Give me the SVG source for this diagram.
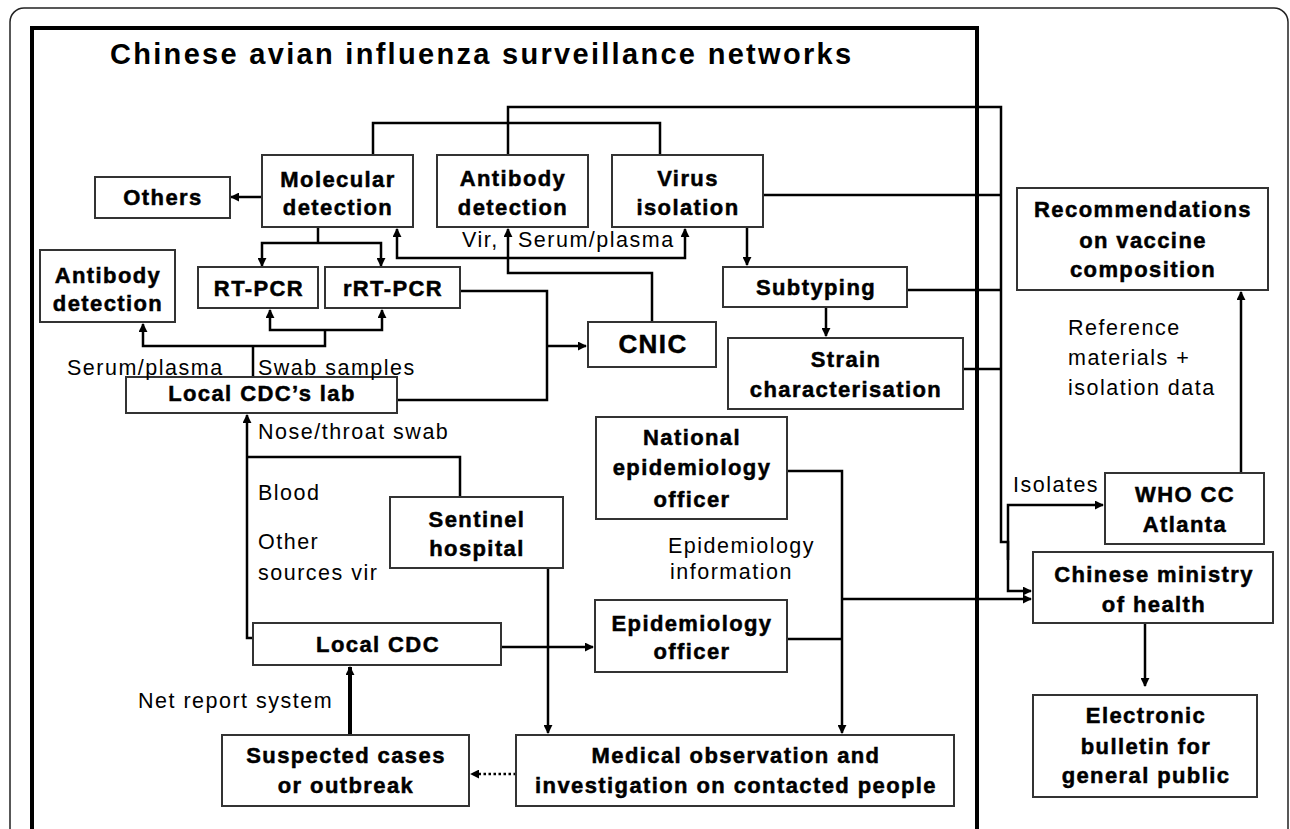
<svg xmlns="http://www.w3.org/2000/svg" width="1290" height="829" viewBox="0 0 1290 829">
<defs>
<style>
.box{fill:#fff;stroke:#333;stroke-width:2}
.t{font-family:"Liberation Sans",Arial,sans-serif;font-weight:bold;font-size:22px;letter-spacing:1.4px;text-anchor:middle;fill:#000;stroke:#000;stroke-width:0.5}
.l{font-family:"Liberation Sans",Arial,sans-serif;font-size:21.5px;letter-spacing:1.5px;fill:#000}
.c{fill:none;stroke:#000;stroke-width:2.5}
.a{marker-end:url(#ah)}
.s{marker-start:url(#ah)}
</style>
<marker id="ah" viewBox="0 0 10 10" refX="9" refY="5" markerUnits="userSpaceOnUse" markerWidth="9" markerHeight="9" orient="auto-start-reverse">
<path d="M0,0 L10,5 L0,10 z" fill="#000"/>
</marker>
</defs>
<rect width="1290" height="829" fill="#fff"/>
<rect x="10" y="8" width="1278" height="860" rx="14" fill="none" stroke="#222" stroke-width="1.5"/>
<path d="M32,829 V28 H977 V829" fill="none" stroke="#000" stroke-width="4"/>
<text x="110" y="64" style="font-family:'Liberation Sans',Arial,sans-serif;font-weight:bold;font-size:29px;letter-spacing:2.3px;fill:#000">Chinese avian influenza surveillance networks</text>

<g id="connectors">
<path class="c a" d="M262,197 H231"/>
<path class="c" d="M318,227 V243"/>
<path class="c s a" d="M262,266 V243 H381 V266"/>
<path class="c" d="M373,155 V123 H660 V155"/>
<path class="c a" d="M508,155 V107 H1001 V542 H1008 V591 H1031"/>
<path class="c a" d="M1008,560 V505 H1103"/>
<path class="c" d="M763,195 H1001"/>
<path class="c" d="M907,290 H1001"/>
<path class="c" d="M963,369 H1001"/>
<path class="c a" d="M652,322 V273 H508 V229"/>
<path class="c s a" d="M397,229 V258 H685 V229"/>
<path class="c a" d="M747,227 V265"/>
<path class="c a" d="M826,307 V336"/>
<path class="c" d="M397,400 H547 V291 H460"/>
<path class="c a" d="M547,346 H586"/>
<path class="c" d="M253,377 V346"/>
<path class="c s" d="M143,324 V346 H325 V330"/>
<path class="c s a" d="M270,310 V330 H382 V310"/>
<path class="c a" d="M253,638 H247 V415"/>
<path class="c" d="M460,497 V457 H247"/>
<path class="c a" d="M548,568 V733"/>
<path class="c a" d="M501,647 H593"/>
<path class="c a" d="M350,735 V667" style="stroke-width:4"/>
<path class="c a" d="M516,774 H471" style="stroke-dasharray:2.5 2.5"/>
<path class="c a" d="M787,471 H842 V733"/>
<path class="c" d="M787,639 H842"/>
<path class="c a" d="M842,599 H1031"/>
<path class="c a" d="M1241,473 V292"/>
<path class="c a" d="M1145,623 V686"/>
</g>

<g id="others"><rect class="box" x="95" y="177" width="135" height="41"/><text class="t" x="163" y="205">Others</text></g>
<g id="molecular"><rect class="box" x="262" y="155" width="151" height="72"/><text class="t" x="338" y="187">Molecular</text><text class="t" x="338" y="215">detection</text></g>
<g id="antibody-top"><rect class="box" x="437" y="155" width="151" height="72"/><text class="t" x="513" y="186">Antibody</text><text class="t" x="513" y="215">detection</text></g>
<g id="virus"><rect class="box" x="612" y="155" width="151" height="72"/><text class="t" x="688" y="186">Virus</text><text class="t" x="688" y="215">isolation</text></g>
<g id="antibody-left"><rect class="box" x="40" y="250" width="135" height="72"/><text class="t" x="108" y="283">Antibody</text><text class="t" x="108" y="311">detection</text></g>
<g id="rtpcr"><rect class="box" x="198" y="267" width="120" height="41"/><text class="t" x="259" y="296">RT-PCR</text></g>
<g id="rrtpcr"><rect class="box" x="325" y="267" width="135" height="41"/><text class="t" x="393" y="296">rRT-PCR</text></g>
<g id="cnic"><rect class="box" x="588" y="322" width="128" height="45"/><text class="t" x="653" y="353" style="font-size:26px">CNIC</text></g>
<g id="subtyping"><rect class="box" x="723" y="267" width="184" height="40"/><text class="t" x="816" y="295">Subtyping</text></g>
<g id="strain"><rect class="box" x="728" y="338" width="235" height="71"/><text class="t" x="846" y="367">Strain</text><text class="t" x="846" y="397">characterisation</text></g>
<g id="lab"><rect class="box" x="126" y="377" width="271" height="36"/><text class="t" x="262" y="401">Local CDC’s lab</text></g>
<g id="national"><rect class="box" x="596" y="417" width="191" height="102"/><text class="t" x="692" y="445">National</text><text class="t" x="692" y="475">epidemiology</text><text class="t" x="692" y="507">officer</text></g>
<g id="sentinel"><rect class="box" x="390" y="497" width="173" height="71"/><text class="t" x="477" y="527">Sentinel</text><text class="t" x="477" y="556">hospital</text></g>
<g id="epi-officer"><rect class="box" x="595" y="600" width="192" height="72"/><text class="t" x="692" y="631">Epidemiology</text><text class="t" x="692" y="659">officer</text></g>
<g id="local-cdc"><rect class="box" x="253" y="623" width="248" height="42"/><text class="t" x="378" y="652">Local CDC</text></g>
<g id="suspected"><rect class="box" x="222" y="735" width="247" height="71"/><text class="t" x="346" y="763">Suspected cases</text><text class="t" x="346" y="793">or outbreak</text></g>
<g id="medical"><rect class="box" x="516" y="735" width="438" height="71"/><text class="t" x="736" y="763">Medical observation and</text><text class="t" x="736" y="793">investigation on contacted people</text></g>
<g id="recommendations"><rect class="box" x="1017" y="188" width="251" height="102"/><text class="t" x="1143" y="217">Recommendations</text><text class="t" x="1143" y="248">on vaccine</text><text class="t" x="1143" y="277">composition</text></g>
<g id="who"><rect class="box" x="1105" y="473" width="159" height="71"/><text class="t" x="1185" y="502">WHO CC</text><text class="t" x="1185" y="532">Atlanta</text></g>
<g id="ministry"><rect class="box" x="1033" y="552" width="240" height="71"/><text class="t" x="1154" y="582">Chinese ministry</text><text class="t" x="1154" y="612">of health</text></g>
<g id="bulletin"><rect class="box" x="1033" y="695" width="224" height="102"/><text class="t" x="1146" y="723">Electronic</text><text class="t" x="1146" y="754">bulletin for</text><text class="t" x="1146" y="783">general public</text></g>

<g id="labels">
<text class="l" x="462" y="247">Vir,</text>
<text class="l" x="518" y="247">Serum/plasma</text>
<text class="l" x="67" y="375">Serum/plasma</text>
<text class="l" x="258" y="375">Swab samples</text>
<text class="l" x="258" y="439">Nose/throat swab</text>
<text class="l" x="258" y="500">Blood</text>
<text class="l" x="258" y="549">Other</text>
<text class="l" x="258" y="580">sources vir</text>
<text class="l" x="138" y="708">Net report system</text>
<text class="l" x="668" y="553">Epidemiology</text>
<text class="l" x="670" y="579">information</text>
<text class="l" x="1068" y="335">Reference</text>
<text class="l" x="1068" y="365">materials +</text>
<text class="l" x="1068" y="395">isolation data</text>
<text class="l" x="1013" y="492">Isolates</text>
</g>
</svg>
